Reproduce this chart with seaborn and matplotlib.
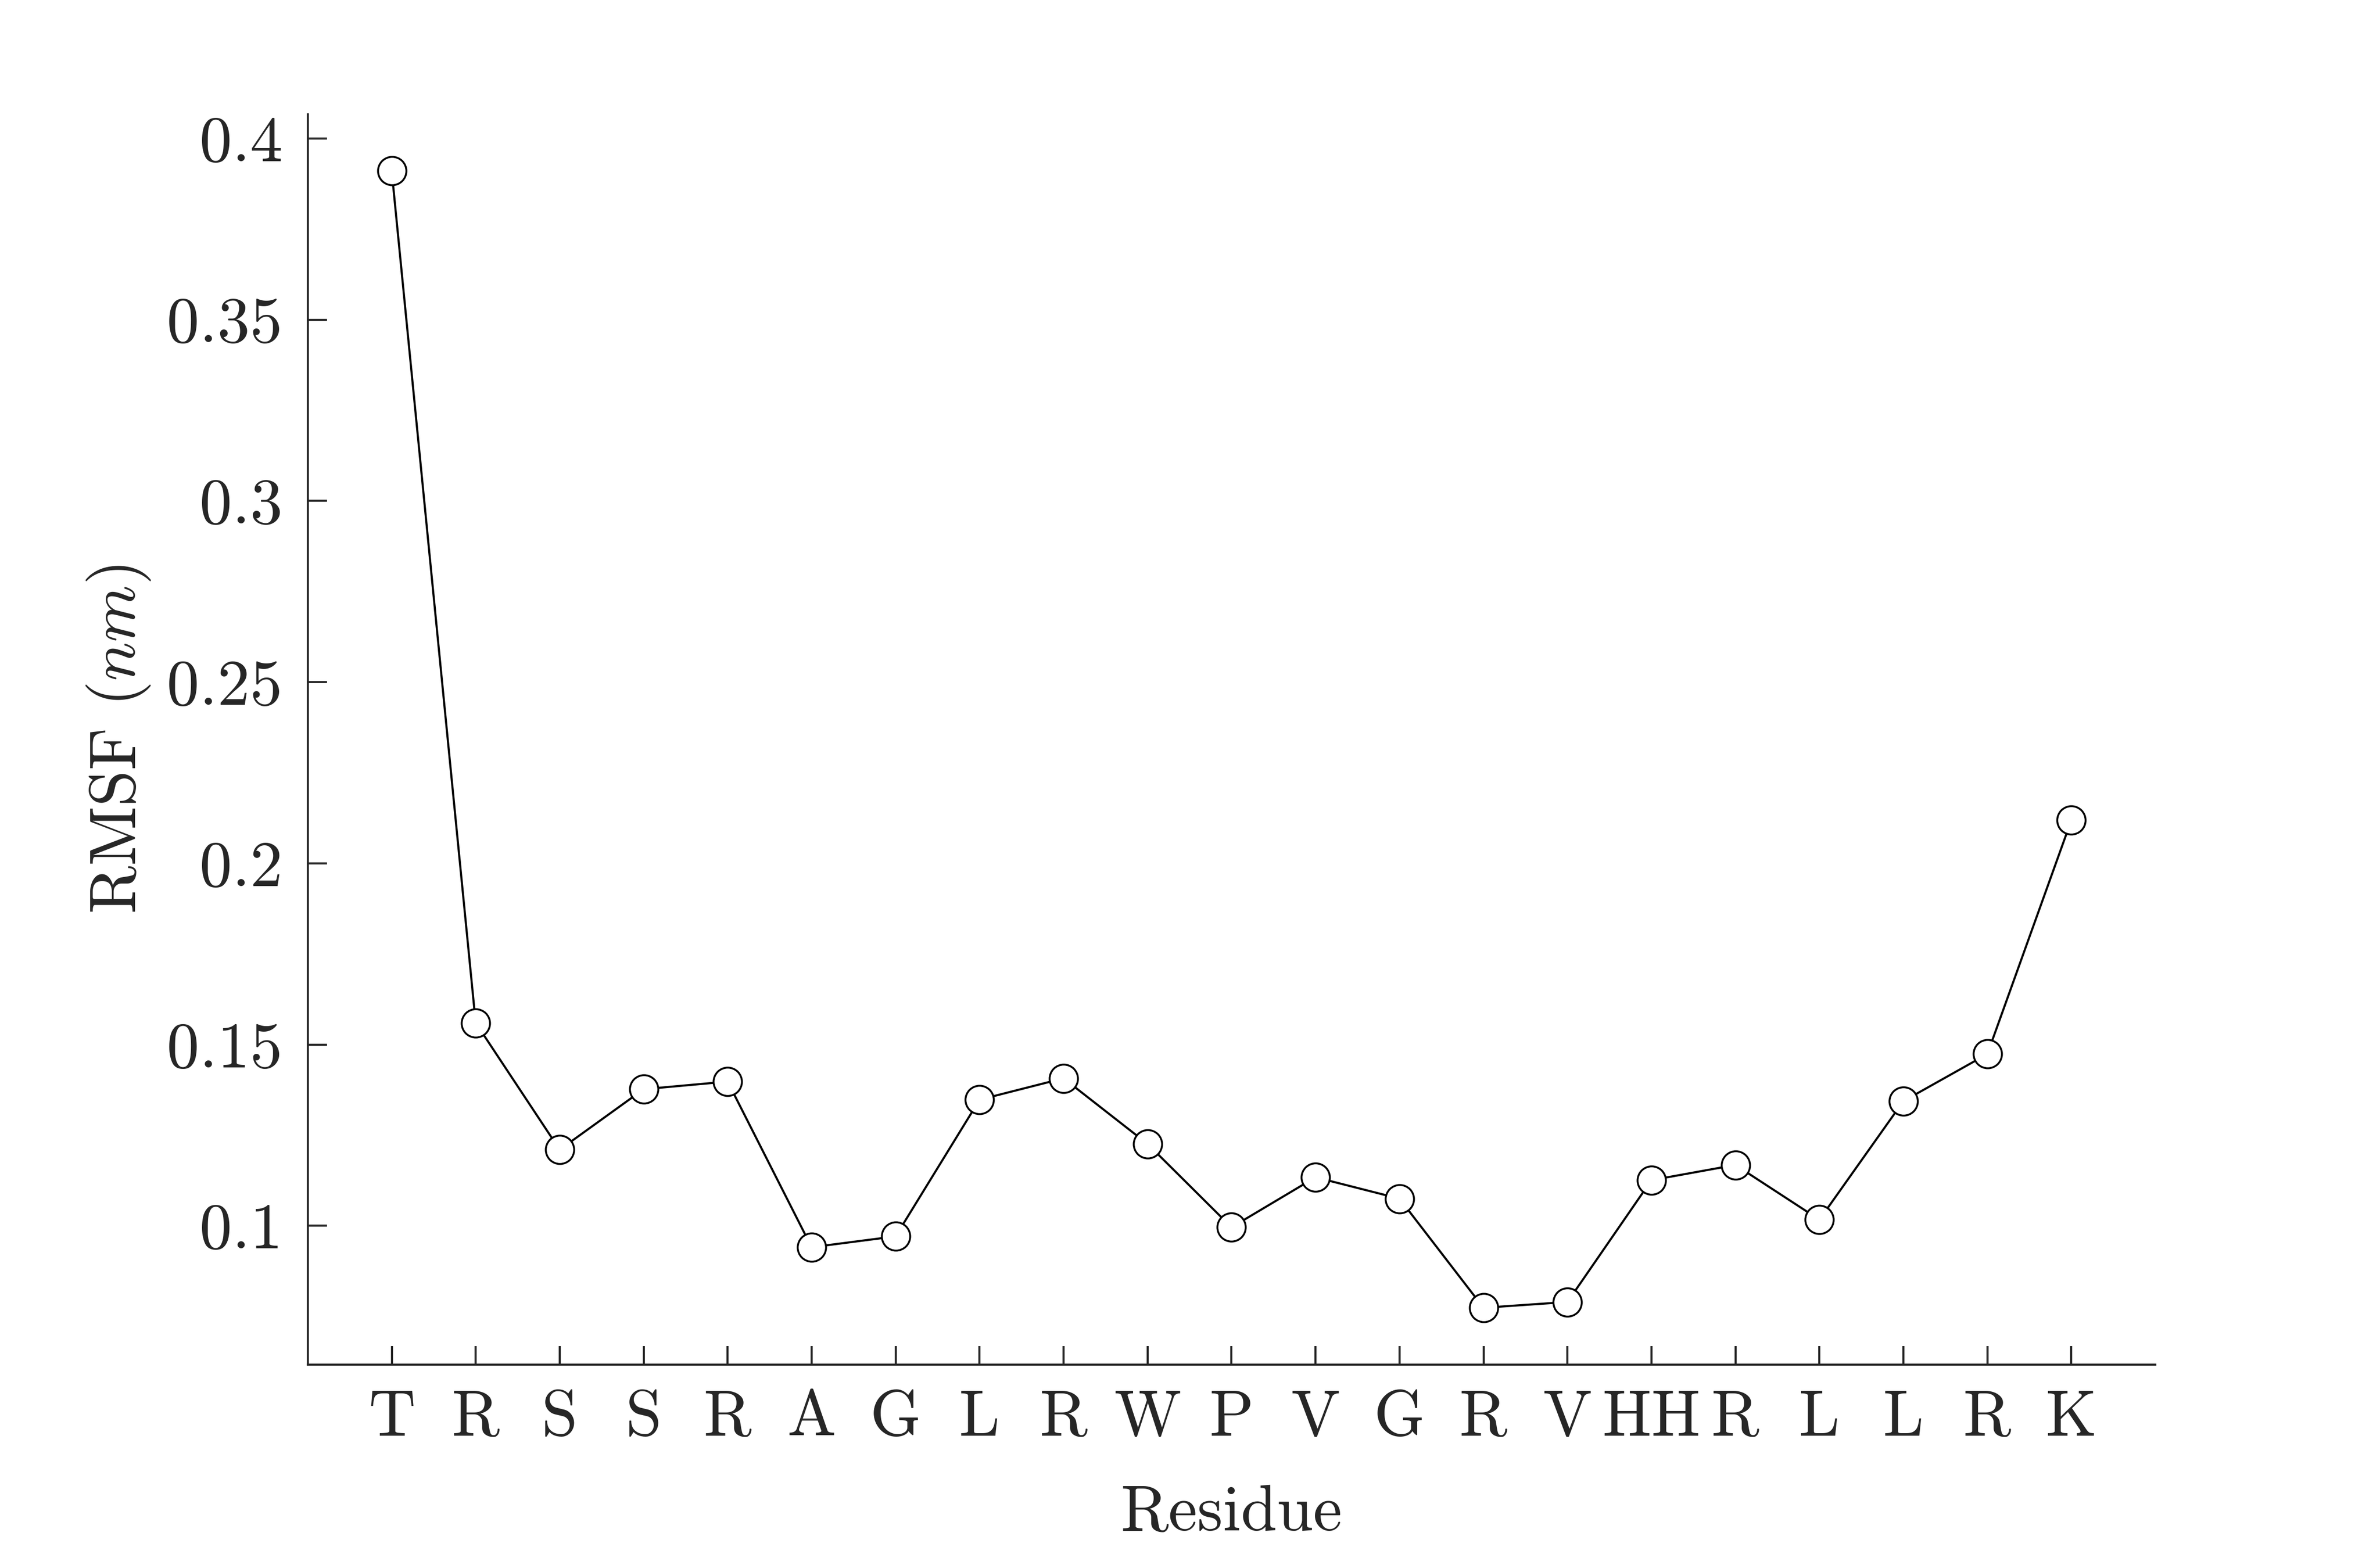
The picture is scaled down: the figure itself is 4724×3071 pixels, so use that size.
import numpy as np
import pandas as pd
import matplotlib
matplotlib.use("Agg")
import matplotlib.pyplot as plt
import seaborn as sns

# ---- data ----
residues = ["T", "R", "S", "S", "R", "A", "G", "L", "R", "W", "P",
            "V", "G", "R", "V", "HH", "R", "L", "L", "R", "K"]
rmsf_nm = [0.391, 0.156, 0.121, 0.1377, 0.1398, 0.0941, 0.0971, 0.1348,
           0.1407, 0.1226, 0.0996, 0.1134, 0.1075, 0.0774, 0.0790,
           0.1126, 0.1168, 0.1017, 0.1344, 0.1474, 0.2119]
ytick_values = [0.1, 0.15, 0.2, 0.25, 0.3, 0.35, 0.4]
ytick_labels = ["0.1", "0.15", "0.2", "0.25", "0.3", "0.35", "0.4"]

df = pd.DataFrame({"pos": np.arange(len(residues)), "rmsf": rmsf_nm})

sns.set_theme(style="ticks")
plt.rcParams.update({
    "font.family": ["serif"],
    "font.serif": ["cmr10"],
    "mathtext.fontset": "cm",
    "axes.formatter.use_mathtext": True,
    "axes.unicode_minus": False,
    "font.size": 31,
    "axes.linewidth": 1.0,
})

fig = plt.figure(figsize=(4724 / 300, 3071 / 300), dpi=300)
ax = fig.add_axes([0.1293, 0.1179, 0.7763, 0.8083])

sns.lineplot(data=df, x="pos", y="rmsf", ax=ax, color="black", linewidth=1.0,
             marker="o", markersize=13.5, markerfacecolor="white",
             markeredgecolor="black", markeredgewidth=0.9)

ax.margins(x=0.05, y=0.05)
ax.set_xticks(df["pos"])
ax.set_xticklabels(residues)
ax.set_yticks(ytick_values)
ax.set_yticklabels(ytick_labels)

ax.tick_params(axis="both", direction="in", length=9, width=1.0,
               labelsize=31, pad=12, color="#262626", labelcolor="#262626")

ax.set_xlabel("Residue", fontsize=31, labelpad=18, color="#262626")
ax.set_ylabel("RMSF ($nm$)", fontsize=31, labelpad=7, color="#262626")

sns.despine(ax=ax)
for s in ["left", "bottom"]:
    ax.spines[s].set_color("#262626")
    ax.spines[s].set_linewidth(1.0)

fig.savefig("out.png", dpi=300, facecolor="white")
